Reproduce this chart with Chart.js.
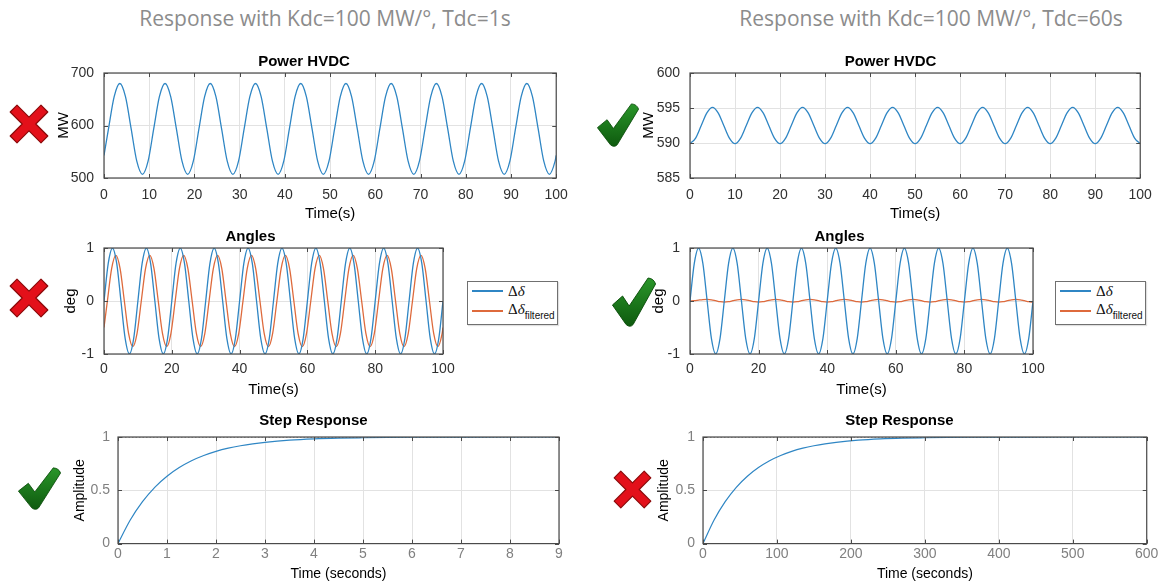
<!DOCTYPE html>
<html>
<head>
<meta charset="utf-8">
<script src="https://cdn.jsdelivr.net/npm/chart.js@4.4.1/dist/chart.umd.min.js"></script>
<style>
  body { margin: 0; background: #fff; width: 1161px; height: 587px; position: relative; overflow: hidden; font-family: "Liberation Sans", Arial, sans-serif; }
  canvas { position: absolute; }
  .head { position: absolute; top: 4px; font-family: "Open Sans", sans-serif; font-size: 21px; color: #8c8c8c; transform: translateX(-50%); white-space: nowrap; }
  .mark { position: absolute; }
  .legend { position: absolute; width: 89px; height: 42px; border: 1px solid #707070; background: #fff; box-shadow: 1px 1px 1px rgba(0,0,0,0.12); }
  .legend .row { position: absolute; left: 4px; height: 16px; display: flex; align-items: center; }
  .legend .swatch { width: 31px; height: 1.4px; }
  .legend .sym { margin-left: 5px; font: 15px "Liberation Serif", serif; color: #111; white-space: nowrap; }
  .legend sub { font: 10px "Liberation Sans", sans-serif; vertical-align: -5px; }
</style>
</head>
<body>

<div class="head" style="left:325px">Response with Kdc=100 MW/°, Tdc=1s</div>
<div class="head" style="left:931px">Response with Kdc=100 MW/°, Tdc=60s</div>

<script>
// sampling instants (s) of the oscillation traces
const tA = [0,1.25,2.5,3.75,5,6.25,7.5,8.75,10,11.25,12.5,13.75,15,16.25,17.5,18.75,
  20,21.25,22.5,23.75,25,26.25,27.5,28.75,30,31.25,32.5,33.75,35,36.25,37.5,38.75,
  40,41.25,42.5,43.75,45,46.25,47.5,48.75,50,51.25,52.5,53.75,55,56.25,57.5,58.75,
  60,61.25,62.5,63.75,65,66.25,67.5,68.75,70,71.25,72.5,73.75,75,76.25,77.5,78.75,
  80,81.25,82.5,83.75,85,86.25,87.5,88.75,90,91.25,92.5,93.75,95,96.25,97.5,98.75,100];
const tB = [0,1,2.25,3.5,4.75,6,7.25,8.5,9.75,11,12.25,13.5,14.75,16,17.25,18.5,19.75,
  21,22.25,23.5,24.75,26,27.25,28.5,29.75,31,32.25,33.5,34.75,36,37.25,38.5,39.75,
  41,42.25,43.5,44.75,46,47.25,48.5,49.75,51,52.25,53.5,54.75,56,57.25,58.5,59.75,
  61,62.25,63.5,64.75,66,67.25,68.5,69.75,71,72.25,73.5,74.75,76,77.25,78.5,79.75,
  81,82.25,83.5,84.75,86,87.25,88.5,89.75,91,92.25,93.5,94.75,96,97.25,98.5,99.75,100];

// HVDC power (MW), Tdc = 1 s, sampled at tB
const powerTdc1 = [543,
  594,655,680,655,594,532,507,532, 594,655,680,655,594,532,507,532,
  594,655,680,655,594,532,507,532, 594,655,680,655,594,532,507,532,
  594,655,680,655,594,532,507,532, 594,655,680,655,594,532,507,532,
  594,655,680,655,594,532,507,532, 594,655,680,655,594,532,507,532,
  594,655,680,655,594,532,507,532, 594,655,680,655,594,532,507,532, 543];

// HVDC power (MW), Tdc = 60 s, sampled at tA
const powerTdc60 = [
  589.9,590.7,592.5,594.3,595.1,594.3,592.5,590.7, 589.9,590.7,592.5,594.3,595.1,594.3,592.5,590.7,
  589.9,590.7,592.5,594.3,595.1,594.3,592.5,590.7, 589.9,590.7,592.5,594.3,595.1,594.3,592.5,590.7,
  589.9,590.7,592.5,594.3,595.1,594.3,592.5,590.7, 589.9,590.7,592.5,594.3,595.1,594.3,592.5,590.7,
  589.9,590.7,592.5,594.3,595.1,594.3,592.5,590.7, 589.9,590.7,592.5,594.3,595.1,594.3,592.5,590.7,
  589.9,590.7,592.5,594.3,595.1,594.3,592.5,590.7, 589.9,590.7,592.5,594.3,595.1,594.3,592.5,590.7, 589.9];

// angle deviation (deg), sampled at tA
const deltaAngle = [
  0,0.71,1,0.71,0,-0.71,-1,-0.71, 0,0.71,1,0.71,0,-0.71,-1,-0.71,
  0,0.71,1,0.71,0,-0.71,-1,-0.71, 0,0.71,1,0.71,0,-0.71,-1,-0.71,
  0,0.71,1,0.71,0,-0.71,-1,-0.71, 0,0.71,1,0.71,0,-0.71,-1,-0.71,
  0,0.71,1,0.71,0,-0.71,-1,-0.71, 0,0.71,1,0.71,0,-0.71,-1,-0.71,
  0,0.71,1,0.71,0,-0.71,-1,-0.71, 0,0.71,1,0.71,0,-0.71,-1,-0.71, 0];

// filtered angle (deg), Tdc = 1 s, sampled at tB
const filteredTdc1 = [-0.5,
  0,0.61,0.86,0.61,0,-0.61,-0.86,-0.61, 0,0.61,0.86,0.61,0,-0.61,-0.86,-0.61,
  0,0.61,0.86,0.61,0,-0.61,-0.86,-0.61, 0,0.61,0.86,0.61,0,-0.61,-0.86,-0.61,
  0,0.61,0.86,0.61,0,-0.61,-0.86,-0.61, 0,0.61,0.86,0.61,0,-0.61,-0.86,-0.61,
  0,0.61,0.86,0.61,0,-0.61,-0.86,-0.61, 0,0.61,0.86,0.61,0,-0.61,-0.86,-0.61,
  0,0.61,0.86,0.61,0,-0.61,-0.86,-0.61, 0,0.61,0.86,0.61,0,-0.61,-0.86,-0.61, -0.5];

// filtered angle (deg), Tdc = 60 s, sampled at tA
const filteredTdc60 = [
  0,0.006,0.017,0.027,0.031,0.023,0.005,-0.013, -0.021,-0.013,0.005,0.023,0.031,0.023,0.005,-0.013,
  -0.021,-0.013,0.005,0.023,0.031,0.023,0.005,-0.013, -0.021,-0.013,0.005,0.023,0.031,0.023,0.005,-0.013,
  -0.021,-0.013,0.005,0.023,0.031,0.023,0.005,-0.013, -0.021,-0.013,0.005,0.023,0.031,0.023,0.005,-0.013,
  -0.021,-0.013,0.005,0.023,0.031,0.023,0.005,-0.013, -0.021,-0.013,0.005,0.023,0.031,0.023,0.005,-0.013,
  -0.021,-0.013,0.005,0.023,0.031,0.023,0.005,-0.013, -0.021,-0.013,0.005,0.023,0.031,0.023,0.005,-0.013, -0.021];

// step responses of the filter
const stepTimeTdc1 = [0,0.25,0.5,0.75,1,1.25,1.5,1.75,2,2.25,2.5,2.75,3,3.5,4,4.5,5,5.5,6,7,8,9];
const stepAmpTdc1 = [0,0.221,0.393,0.528,0.632,0.713,0.777,0.826,0.865,0.895,0.918,0.936,0.95,0.97,0.982,0.989,0.993,0.996,0.9975,0.999,1,1];
const stepTimeTdc60 = [0,15,30,45,60,75,90,105,120,135,150,165,180,210,240,270,300,330,360,420,480,540,600];
const stepAmpTdc60 = [0,0.221,0.393,0.528,0.632,0.713,0.777,0.826,0.865,0.895,0.918,0.936,0.95,0.97,0.982,0.989,0.993,0.996,0.9975,0.999,1,1,1];
const steadyLevel = 1;

const BLUE = '#2f86c4';
const ORANGE = '#de6a3c';

Chart.defaults.font.family = '"Liberation Sans", Arial, sans-serif';

const xy = (t, v) => t.map((x, i) => ({ x: x, y: v[i] }));

// box outline and inward tick marks, matlab style
const frame = {
  id: 'frame',
  afterDatasetsDraw(chart) {
    const { ctx, chartArea: a, scales: { x, y } } = chart;
    ctx.save();
    ctx.strokeStyle = '#4a4a4a';
    ctx.lineWidth = 1;
    ctx.beginPath();
    x.ticks.forEach(t => {
      const px = Math.round(x.getPixelForValue(t.value)) + 0.5;
      ctx.moveTo(px, a.bottom); ctx.lineTo(px, a.bottom - 4);
      ctx.moveTo(px, a.top); ctx.lineTo(px, a.top + 4);
    });
    y.ticks.forEach(t => {
      const py = Math.round(y.getPixelForValue(t.value)) + 0.5;
      ctx.moveTo(a.left, py); ctx.lineTo(a.left + 4, py);
      ctx.moveTo(a.right, py); ctx.lineTo(a.right - 4, py);
    });
    ctx.stroke();
    ctx.lineWidth = 1.2;
    ctx.strokeRect(a.left, a.top, a.right - a.left, a.bottom - a.top);
    ctx.restore();
  }
};

function panel(p) {
  const [l, t, r, b] = p.box;
  const lhT = p.titleSize * 1.2, lhL = p.labelSize * 1.2, lhK = p.tickSize * 1.2;
  const left = Math.round(p.yTitleX - lhL / 2 - 4);
  const top = Math.round(p.titleY - lhT / 2);
  const xH = (p.xTitleY - b) + lhL / 2;
  const cv = document.createElement('canvas');
  cv.width = Math.round(r + p.padR - left);
  cv.height = Math.round(b + xH - top);
  cv.style.left = left + 'px';
  cv.style.top = top + 'px';
  document.body.appendChild(cv);

  new Chart(cv, {
    type: 'line',
    data: {
      datasets: p.series.map(s => ({
        data: xy(s.t, s.v),
        borderColor: s.color,
        borderWidth: s.width || 1.3,
        borderDash: s.dash || [],
        pointRadius: 0,
        cubicInterpolationMode: s.dash ? 'default' : 'monotone'
      }))
    },
    options: {
      responsive: false,
      animation: false,
      events: [],
      layout: { padding: { left: 0, top: 0, bottom: 0, right: p.padR } },
      plugins: {
        legend: { display: false },
        tooltip: { enabled: false },
        title: {
          display: true, text: p.title, color: '#000',
          font: { size: p.titleSize, weight: 'bold', lineHeight: 1.2 },
          padding: { top: 0, bottom: t - top - lhT }
        }
      },
      scales: {
        x: {
          type: 'linear', min: p.x[0], max: p.x[1],
          ticks: { stepSize: p.x[2], color: p.tickColor, font: { size: p.tickSize }, padding: p.xTickY - b - lhK / 2, maxRotation: 0, autoSkip: false },
          grid: { color: '#e2e2e2', drawTicks: false },
          border: { display: false },
          title: { display: true, text: p.xLabel, color: '#000', font: { size: p.labelSize }, padding: { top: 0, bottom: 0 } },
          afterFit: s => { s.height = xH; }
        },
        y: {
          type: 'linear', min: p.y[0], max: p.y[1],
          ticks: { stepSize: p.y[2], color: p.tickColor, font: { size: p.tickSize }, padding: p.yTickPad, callback: v => String(v) },
          grid: { color: '#e2e2e2', drawTicks: false },
          border: { display: false },
          title: { display: true, text: p.yLabel, color: '#000', font: { size: p.labelSize }, padding: { top: 4, bottom: 0 } },
          afterFit: s => { s.width = l - left; }
        }
      }
    },
    plugins: [frame]
  });
}

const topRow = { title: 'Power HVDC', titleSize: 15, labelSize: 15, tickSize: 14, tickColor: '#303030', titleY: 61.5, xTickY: 195.5, xTitleY: 214, yTickPad: 10, xLabel: 'Time(s)', yLabel: 'MW', x: [0, 100, 10] };
const midRow = { title: 'Angles', titleSize: 15, labelSize: 15, tickSize: 14, tickColor: '#303030', titleY: 236.5, xTickY: 369, xTitleY: 390, yTickPad: 10, xLabel: 'Time(s)', yLabel: 'deg', x: [0, 100, 20], y: [-1, 1, 1] };
const stepRow = { title: 'Step Response', titleSize: 15, labelSize: 14, tickSize: 14, tickColor: '#808080', titleY: 421, xTickY: 555, xTitleY: 575, yTickPad: 8, xLabel: 'Time (seconds)', yLabel: 'Amplitude', y: [0, 1, 0.5] };

panel(Object.assign({}, topRow, { box: [104, 73, 557, 178], yTitleX: 63.5, padR: 20, y: [500, 700, 100],
  series: [{ t: tB, v: powerTdc1, color: BLUE }] }));
panel(Object.assign({}, topRow, { box: [690, 73, 1145, 178], yTitleX: 649, padR: 16, y: [585, 600, 5],
  series: [{ t: tA, v: powerTdc60, color: BLUE }] }));
panel(Object.assign({}, midRow, { box: [104, 248, 443, 354], yTitleX: 71, padR: 20,
  series: [{ t: tA, v: deltaAngle, color: BLUE }, { t: tB, v: filteredTdc1, color: ORANGE }] }));
panel(Object.assign({}, midRow, { box: [690, 248, 1033, 354], yTitleX: 659, padR: 20,
  series: [{ t: tA, v: deltaAngle, color: BLUE }, { t: tA, v: filteredTdc60, color: ORANGE }] }));
panel(Object.assign({}, stepRow, { box: [118, 437, 559, 544], yTitleX: 80, padR: 18, x: [0, 9, 1],
  series: [{ t: [0, 9], v: [steadyLevel, steadyLevel], color: '#555', width: 1, dash: [1.5, 2] },
           { t: stepTimeTdc1, v: stepAmpTdc1, color: BLUE, width: 1.2 }] }));
panel(Object.assign({}, stepRow, { box: [703, 437, 1147, 544], yTitleX: 664, padR: 14, x: [0, 600, 100],
  series: [{ t: [0, 600], v: [steadyLevel, steadyLevel], color: '#555', width: 1, dash: [1.5, 2] },
           { t: stepTimeTdc60, v: stepAmpTdc60, color: BLUE, width: 1.2 }] }));

// legends for the angle plots
function legend(x, y) {
  const box = document.createElement('div');
  box.className = 'legend';
  box.style.left = x + 'px';
  box.style.top = y + 'px';
  box.innerHTML =
    '<div class="row" style="top:1px"><span class="swatch" style="background:' + BLUE + '"></span><span class="sym">Δ<i>δ</i></span></div>' +
    '<div class="row" style="top:21px"><span class="swatch" style="background:' + ORANGE + '"></span><span class="sym">Δ<i>δ</i><sub>filtered</sub></span></div>';
  document.body.appendChild(box);
}
legend(467, 281);
legend(1055, 281);

// red cross / green tick verdict marks
const CROSS = '<path d="M3 20 L20 3 L50 33 L80 3 L97 20 L67 50 L97 80 L80 97 L50 67 L20 97 L3 80 L33 50 Z" fill="#e3101a" stroke="#8b0a0a" stroke-width="3" stroke-linejoin="round"/>';
const CHECK = '<defs><linearGradient id="g" x1="0" y1="0" x2="0" y2="1"><stop offset="0" stop-color="#2a962a"/><stop offset="1" stop-color="#0e5a0e"/></linearGradient></defs>' +
  '<path d="M1 56 L24 38 L39 58 L82 2 Q95 3 99 14 L48 95 Q41 102 32 95 Z" fill="url(#g)" stroke="#0b4d0b" stroke-width="2" stroke-linejoin="round"/>';
function mark(shape, x, y, w, h) {
  const ns = 'http://www.w3.org/2000/svg';
  const svg = document.createElementNS(ns, 'svg');
  svg.setAttribute('class', 'mark');
  svg.setAttribute('width', w);
  svg.setAttribute('height', h);
  svg.setAttribute('viewBox', '0 0 100 100');
  svg.setAttribute('preserveAspectRatio', 'none');
  svg.style.left = x + 'px';
  svg.style.top = y + 'px';
  svg.innerHTML = shape;
  document.body.appendChild(svg);
}
mark(CROSS, 9, 104, 40, 40);
mark(CHECK, 597, 103, 42, 44);
mark(CROSS, 9, 278, 40, 40);
mark(CHECK, 612, 277, 44, 50);
mark(CHECK, 18, 467, 43, 43);
mark(CROSS, 613, 470, 39, 39);
</script>
</body>
</html>
